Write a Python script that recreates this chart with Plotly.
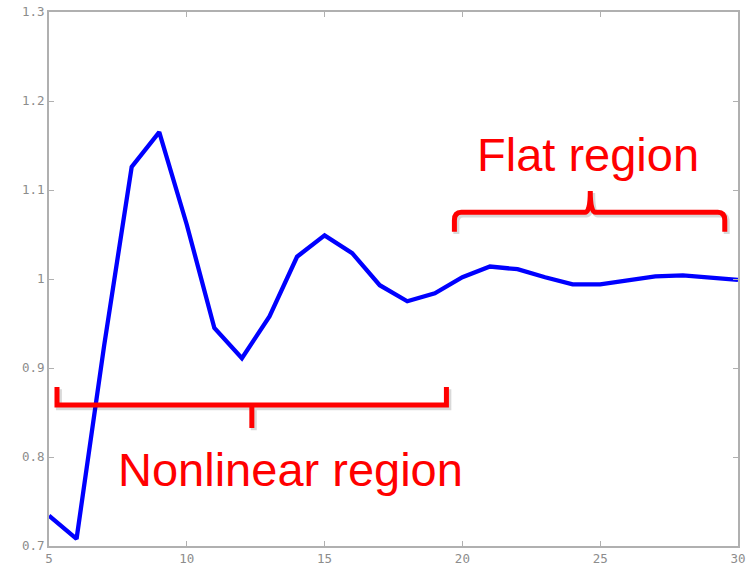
import plotly.graph_objects as go

# Data
x_values = list(range(5, 31))
y_values = [0.734, 0.708, 0.925, 1.126, 1.165, 1.061, 0.945, 0.911, 0.958, 1.025,
            1.049, 1.029, 0.993, 0.975, 0.984, 1.002, 1.014, 1.011, 1.002, 0.994,
            0.994, 0.999, 1.003, 1.004, 1.002, 0.999]
x_ticks = [5, 10, 15, 20, 25, 30]
y_ticks = [0.7, 0.8, 0.9, 1.0, 1.1, 1.2, 1.3]
y_tick_labels = ["0.7", "0.8", "0.9", "1", "1.1", "1.2", "1.3"]

fig = go.Figure()
fig.add_trace(go.Scatter(x=x_values, y=y_values, mode="lines",
                         line=dict(color="#0000ff", width=4.3), hoverinfo="skip",
                         cliponaxis=False))

axis_common = dict(showgrid=False, zeroline=False, showline=True, linecolor="#b0b0b0",
                   linewidth=2, mirror="ticks", ticks="inside", ticklen=5,
                   tickcolor="#b0b0b0", tickwidth=1, automargin=False,
                   tickfont=dict(family="DejaVu Sans Mono", size=12.5, color="#8c8c8c"))

fig.update_xaxes(range=[5, 30], tickvals=x_ticks, **axis_common)
fig.update_yaxes(range=[0.7, 1.3], tickvals=y_ticks, ticktext=y_tick_labels, **axis_common)

# Bracket shapes (annotation geometry)
bottom_path = ("M 5.29,0.8787 L 5.29,0.8584 L 19.42,0.8584 L 19.42,0.8787 "
               "M 12.36,0.8584 L 12.36,0.8326")
top_path = ("M 19.71,1.053 L 19.71,1.066 Q 19.71,1.075 19.96,1.075 L 24.45,1.075 "
            "Q 24.64,1.075 24.64,1.099 Q 24.64,1.075 24.83,1.075 L 29.27,1.075 "
            "Q 29.52,1.075 29.52,1.066 L 29.52,1.053")

def shifted(path, dx, dy):
    out = []
    for tok in path.split():
        if "," in tok:
            a, b = tok.split(",")
            out.append(f"{float(a)+dx:.4f},{float(b)+dy:.5f}")
        else:
            out.append(tok)
    return " ".join(out)

for p in (bottom_path, top_path):
    fig.add_shape(type="path", path=shifted(p, 0.07, -0.0025), xref="x", yref="y",
                  line=dict(color="rgba(0,0,0,0.15)", width=6))
    fig.add_shape(type="path", path=p, xref="x", yref="y",
                  line=dict(color="#ff0000", width=5))

fig.add_annotation(x=13.75, y=0.7858, xref="x", yref="y", text="Nonlinear region",
                   showarrow=False, font=dict(family="Liberation Sans", size=47, color="#ff0000"))
fig.add_annotation(x=24.55, y=1.1395, xref="x", yref="y", text="Flat region",
                   showarrow=False, font=dict(family="Liberation Sans", size=47, color="#ff0000"))

fig.update_layout(width=750, height=570, margin=dict(l=49, r=12, t=12, b=24),
                  plot_bgcolor="white", paper_bgcolor="white", showlegend=False)

fig.write_html("out.html", config={"displayModeBar": False, "staticPlot": True},
               post_script="document.body.style.margin='0';document.body.style.overflow='hidden';")
